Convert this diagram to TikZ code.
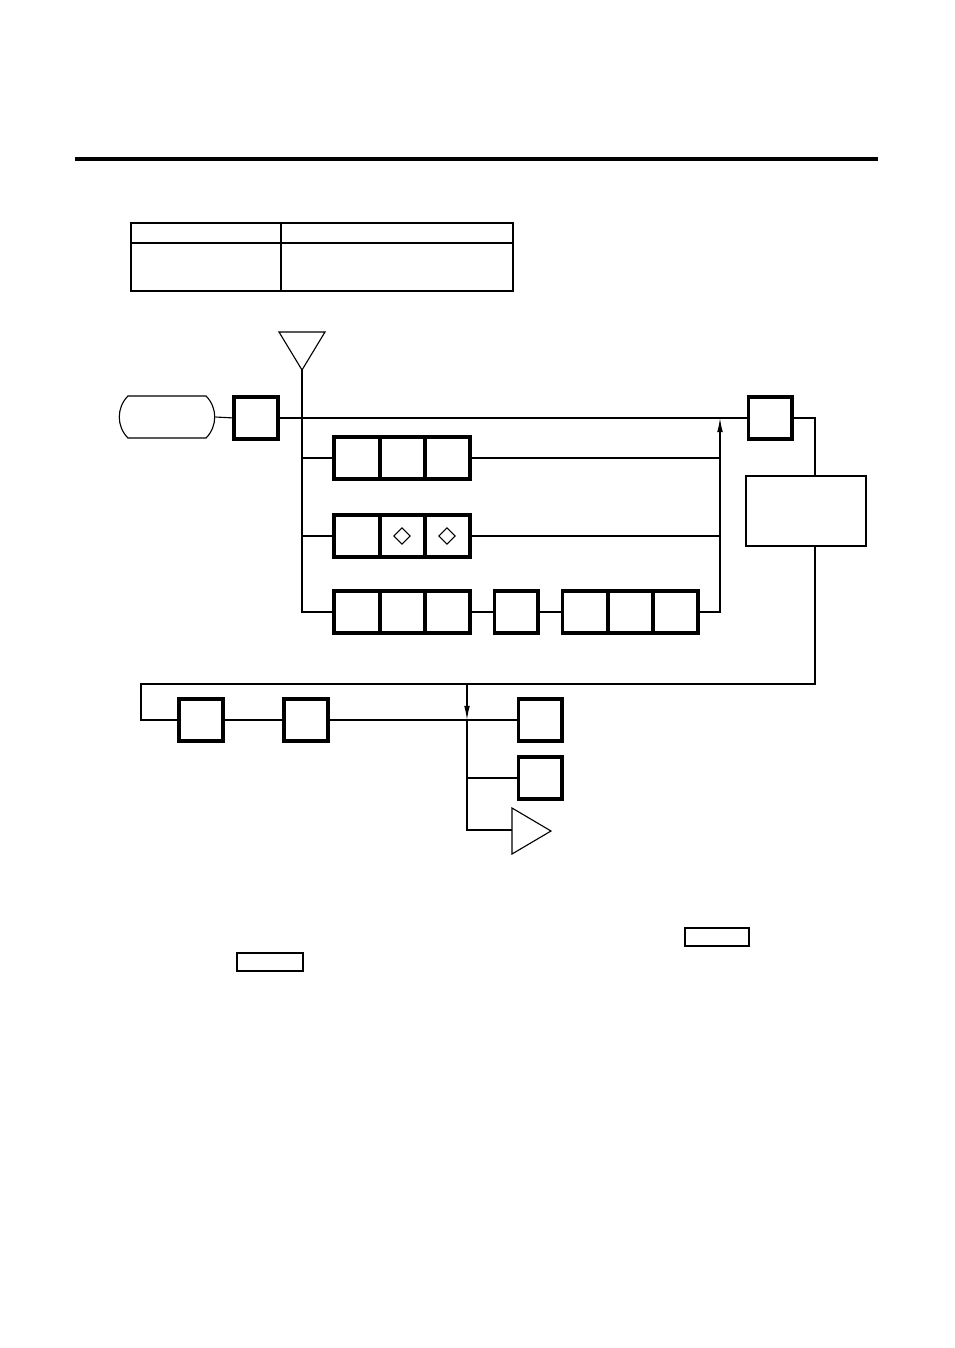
\documentclass[tikz,border=0pt]{standalone}
\usetikzlibrary{shapes.geometric,shapes.misc,arrows.meta}
\tikzset{
  keybox/.style={draw,line width=2.7pt,outer sep=0pt,inner sep=0pt,minimum width=1.08cm,minimum height=1.06cm},
  cellbox/.style={keybox,minimum width=1.13cm},
  diam/.style={draw,diamond,line width=0.8pt,inner sep=0pt,minimum size=0.42cm},
  wire/.style={line width=0.8pt},
  flow/.style={wire,-{Latex[length=10pt,width=4pt]}}
}
\begin{document}
\begin{tikzpicture}[x=0.025cm,y=-0.025cm]
\useasboundingbox (0,0) rectangle (954,1348);

% heading rule and table
\draw[line width=2.9pt] (75,159) -- (878,159);
\draw[line width=0.9pt] (131,223) rectangle (513,291);
\draw[line width=0.9pt] (131,243) -- (513,243);
\draw[line width=0.9pt] (281,223) -- (281,291);

\node[draw,rounded rectangle,rounded rectangle arc length=90,line width=0.8pt,minimum width=2.62cm,minimum height=1.05cm] (term) at (167,417) {};
\node[keybox] (b0) at (256,418) {};
\node[keybox] (bR) at (770,418) {};
\node[draw,line width=1pt,minimum width=3cm,minimum height=1.75cm] (info) at (806,511) {};

\node[cellbox] (r1a) at (357,458) {};
\node[cellbox] (r1b) at (402,458) {};
\node[cellbox] (r1c) at (447,458) {};

\node[cellbox] (r2a) at (357,536) {};
\node[cellbox] (r2b) at (402,536) {};
\node[cellbox] (r2c) at (447,536) {};
\node[diam] (q1) at (r2b) {};
\node[diam] (q2) at (r2c) {};

\node[cellbox] (r3a) at (357,612) {};
\node[cellbox] (r3b) at (402,612) {};
\node[cellbox] (r3c) at (447,612) {};
\node[keybox] (r3d) at (516,612) {};
\node[cellbox] (r3e) at (585,612) {};
\node[cellbox] (r3f) at (630,612) {};
\node[cellbox] (r3g) at (675,612) {};

\node[keybox] (d1) at (201,720) {};
\node[keybox] (d2) at (306,720) {};
\node[keybox] (d3) at (540,720) {};
\node[keybox] (d4) at (540,778) {};

% triangles
\draw[wire] (279,332) -- (325,332) -- (302,370) -- cycle;
\coordinate (tA) at (302,370);
\draw[wire] (512,808) -- (551,831) -- (512,854) -- cycle;
\coordinate (tB) at (512,830);

\coordinate (mj) at (720,418);
\coordinate (rx) at (815,684);
\coordinate (lq) at (141,684);
\coordinate (dj) at (467,720);

\draw[wire]
  (term.east) -- (b0.west);
\draw[wire]
  (b0.east) -- (bR.west);
\draw[wire]
  (tA) |- (r3a.west);
\draw[wire] (r1a.west -| tA) -- (r1a.west);
\draw[wire] (r2a.west -| tA) -- (r2a.west);
\draw[wire] (r1c.east) -- (r1c.east -| mj);
\draw[wire] (r2c.east) -- (r2c.east -| mj);
\draw[wire] (r3c.east) -- (r3d.west);
\draw[wire] (r3d.east) -- (r3e.west);
\draw[flow] (r3g.east) -| (mj);

\draw[wire] (bR.east) -| (info.north -| rx);
\draw[wire] (info.south -| rx) |- (lq) |- (d1.west);
\draw[wire] (d1.east) -- (d2.west);
\draw[wire] (d2.east) -- (d3.west);
\draw[flow] (dj |- lq) -- (dj);
\draw[wire] (dj) |- (tB);
\draw[wire] (dj |- d4.west) -- (d4.west);

% boxed keys in the note
\draw[line width=0.9pt] (685,928) rectangle (749,946);
\draw[line width=0.9pt] (237,953) rectangle (303,971);

\end{tikzpicture}
\end{document}
